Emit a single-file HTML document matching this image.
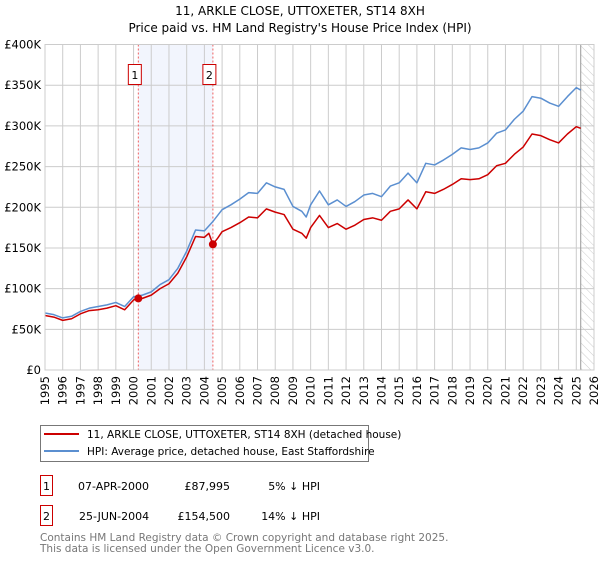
<!DOCTYPE html>
<html><head><meta charset="utf-8">
<style>
body{margin:0;background:#fff;font-family:"DejaVu Sans","Liberation Sans",sans-serif;}
svg text{font-family:"DejaVu Sans","Liberation Sans",sans-serif;}
</style></head>
<body>
<svg width="600" height="560" viewBox="0 0 600 560" xmlns="http://www.w3.org/2000/svg">
<defs>
<pattern id="hatch" width="6" height="6" patternUnits="userSpaceOnUse" patternTransform="rotate(-45)">
<line x1="0" y1="0" x2="0" y2="6" stroke="#ccc" stroke-width="1"/>
</pattern>
</defs>
<text x="300" y="15" text-anchor="middle" font-size="12" fill="#000">11, ARKLE CLOSE, UTTOXETER, ST14 8XH</text>
<text x="300" y="32" text-anchor="middle" font-size="12" fill="#000">Price paid vs. HM Land Registry's House Price Index (HPI)</text>
<g id="plot"></g>
<g>
<rect x="40.5" y="425.5" width="328" height="36" fill="#fff" stroke="#777"/>
<line x1="44" y1="434" x2="79" y2="434" stroke="#cc0000" stroke-width="2"/>
<text x="87" y="438" font-size="10.5">11, ARKLE CLOSE, UTTOXETER, ST14 8XH (detached house)</text>
<line x1="44" y1="451" x2="79" y2="451" stroke="#5b8fd0" stroke-width="2"/>
<text x="87" y="455" font-size="10.5">HPI: Average price, detached house, East Staffordshire</text>
</g>
<g>
<rect x="40.5" y="475.5" width="12" height="20" fill="none" stroke="#cc0000"/>
<text x="46.5" y="490" font-size="11" text-anchor="middle">1</text>
<text x="78" y="490" font-size="11">07-APR-2000</text>
<text x="230" y="490" font-size="11" text-anchor="end">£87,995</text>
<text x="320" y="490" font-size="11" text-anchor="end">5% ↓ HPI</text>
</g>
<g>
<rect x="40.5" y="505.5" width="12" height="20" fill="none" stroke="#cc0000"/>
<text x="46.5" y="520" font-size="11" text-anchor="middle">2</text>
<text x="79" y="520" font-size="11">25-JUN-2004</text>
<text x="230" y="520" font-size="11" text-anchor="end">£154,500</text>
<text x="320" y="520" font-size="11" text-anchor="end">14% ↓ HPI</text>
</g>
<text x="40" y="541" font-size="10.5" fill="#777">Contains HM Land Registry data © Crown copyright and database right 2025.</text>
<text x="40" y="552" font-size="10.5" fill="#777">This data is licensed under the Open Government Licence v3.0.</text>
</svg>
<script>
const hpiYears=[1995,1995.5,1996,1996.5,1997,1997.5,1998,1998.5,1999,1999.5,2000,2000.5,2001,2001.5,2002,2002.5,2003,2003.5,2004,2004.5,2005,2005.5,2006,2006.5,2007,2007.5,2008,2008.5,2009,2009.5,2009.75,2010,2010.5,2011,2011.5,2012,2012.5,2013,2013.5,2014,2014.5,2015,2015.5,2016,2016.5,2017,2017.5,2018,2018.5,2019,2019.5,2020,2020.5,2021,2021.5,2022,2022.5,2023,2023.5,2024,2024.5,2025,2025.25];
const hpiValues=[70,68,64,66,72,76,78,80,83,78,90,92,96,105,111,125,146,172,171,183,197,203,210,218,217,230,225,222,201,195,188,203,220,203,209,201,207,215,217,213,226,230,242,230,254,252,258,265,273,271,273,279,291,295,308,318,336,334,328,324,336,347,344];
const priceYears=[1995,1995.5,1996,1996.5,1997,1997.5,1998,1998.5,1999,1999.5,2000,2000.27,2000.5,2001,2001.5,2002,2002.5,2003,2003.5,2004,2004.25,2004.48,2004.75,2005,2005.5,2006,2006.5,2007,2007.5,2008,2008.5,2009,2009.5,2009.75,2010,2010.5,2011,2011.5,2012,2012.5,2013,2013.5,2014,2014.5,2015,2015.5,2016,2016.5,2017,2017.5,2018,2018.5,2019,2019.5,2020,2020.5,2021,2021.5,2022,2022.5,2023,2023.5,2024,2024.5,2025,2025.25];
const priceValues=[67,65,61,63,69,73,74,76,79,74,86,88,88,92,100,106,119,139,164,163,168,154.5,162,170,175,181,188,187,198,194,191,173,168,162,175,190,175,180,173,178,185,187,184,195,198,209,198,219,217,222,228,235,234,235,240,251,254,265,274,290,288,283,279,290,299,297];
const saleYears=[2000.27,2004.48];
const saleValues=[87.995,154.5];
const saleLabels=["1","2"];
const yTicks=[0,50,100,150,200,250,300,350,400];
const yTickLabels=["£0","£50K","£100K","£150K","£200K","£250K","£300K","£350K","£400K"];
const xTicks=[1995,1996,1997,1998,1999,2000,2001,2002,2003,2004,2005,2006,2007,2008,2009,2010,2011,2012,2013,2014,2015,2016,2017,2018,2019,2020,2021,2022,2023,2024,2025,2026];

const L=45,R=594,T=44.5,B=370,x0=1995,x1=2026,vMax=400,dataEnd=2025.25;
const X=v=>L+(v-x0)/(x1-x0)*(R-L);
const Y=v=>B-v/vMax*(B-T);
const NS="http://www.w3.org/2000/svg";
const g=document.getElementById('plot');
function mk(tag,attrs,parent){const e=document.createElementNS(NS,tag);for(const k in attrs)e.setAttribute(k,attrs[k]);(parent||g).appendChild(e);return e;}

const bg=mk('rect',{x:L,y:T,width:R-L,height:B-T,fill:'#fff'});


const band=mk('rect',{x:X(saleYears[0]),y:T,width:X(saleYears[1])-X(saleYears[0]),height:B-T,fill:'#f2f5fd'});


const hat=mk('rect',{x:X(dataEnd),y:T,width:R-X(dataEnd),height:B-T,fill:'url(#hatch)'});



yTicks.forEach((v,i)=>{
  const l=mk('line',{x1:L,x2:R,y1:Y(v),y2:Y(v),stroke:'#ccc','stroke-width':1});
  
  
  const t=mk('text',{x:L-4,y:Y(v)+4,'text-anchor':'end','font-size':11.5,fill:'#000'});
  t.textContent=yTickLabels[i];
  
  
});
xTicks.forEach(v=>{
  const l=mk('line',{x1:X(v),x2:X(v),y1:T,y2:B,stroke:'#ccc','stroke-width':1});
  
  
  const t=mk('text',{x:0,y:0,'text-anchor':'end','font-size':11.5,fill:'#000',transform:`translate(${X(v)+4},${B+6}) rotate(-90)`});
  t.textContent=v;
  
  
});
const endL=mk('line',{x1:X(dataEnd),x2:X(dataEnd),y1:T,y2:B,stroke:'#999','stroke-width':1});



saleYears.forEach((s,i)=>{
  const l=mk('line',{x1:X(s),x2:X(s),y1:T,y2:B,stroke:'#f06060','stroke-width':1,'stroke-dasharray':'2,2'});
  
  
  const r=mk('rect',{x:X(s)-10,y:64.5,width:13,height:20,fill:'#fff',stroke:'#cc0000'});
  
  
  const t=mk('text',{x:X(s)-3.5,y:79,'text-anchor':'middle','font-size':11});
  t.textContent=saleLabels[i];
  
  
});

const hp=mk('polyline',{points:hpiYears.map((y,i)=>X(y)+','+Y(hpiValues[i])).join(' '),fill:'none',stroke:'#5b8fd0','stroke-width':1.5,'stroke-linejoin':'round'});


const pp=mk('polyline',{points:priceYears.map((y,i)=>X(y)+','+Y(priceValues[i])).join(' '),fill:'none',stroke:'#cc0000','stroke-width':1.5,'stroke-linejoin':'round'});



saleYears.forEach((s,i)=>{
  const c=mk('circle',{cx:X(s),cy:Y(saleValues[i]),r:4,fill:'#cc0000'});
  
  
});
const fr=mk('rect',{x:L,y:T,width:R-L,height:B-T,fill:'none',stroke:'#ccc'});


</script>
</body></html>
